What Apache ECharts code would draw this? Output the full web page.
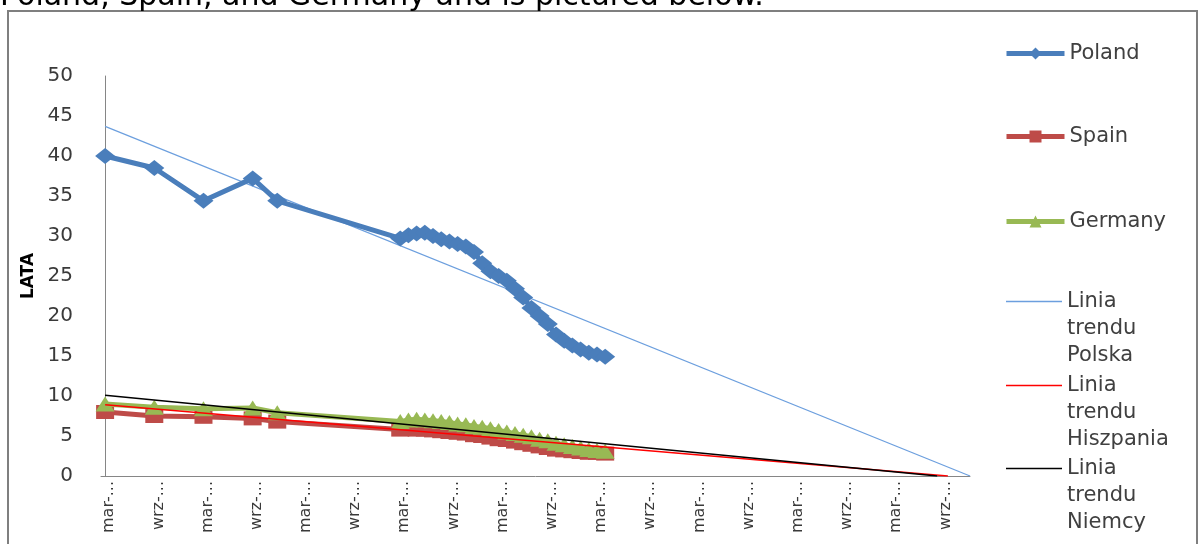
<!DOCTYPE html>
<html><head><meta charset="utf-8">
<script src="https://cdn.jsdelivr.net/npm/echarts@6/dist/echarts.min.js"></script>
<style>html,body{margin:0;padding:0;background:#fff;overflow:hidden}#c{width:1198px;height:544px}</style>
</head><body><div id="c"></div>
<script>
// x-axis tick labels (every 6 months)
const xTickLabels = ['mar-...','wrz-...','mar-...','wrz-...','mar-...','wrz-...','mar-...','wrz-...','mar-...',
                     'wrz-...','mar-...','wrz-...','mar-...','wrz-...','mar-...','wrz-...','mar-...','wrz-...'];
// observation months (months from first observation)
const months = [0, 6, 12, 18, 21,
  36, 37, 38, 39, 40, 41, 42, 43, 44, 45, 46, 47, 48, 49, 50, 51, 52, 53, 54, 55, 56, 57, 58, 59, 60, 61];
const poland = [40.0, 38.5, 34.4, 37.2, 34.4,
  29.7, 30.1, 30.3, 30.4, 30.0, 29.6, 29.3, 29.0, 28.7, 28.0, 26.6, 25.6, 25.0, 24.4, 23.4, 22.3, 21.0, 20.0, 19.0, 17.7, 16.9, 16.3, 15.8, 15.4, 15.2, 14.9];
const spain = [8.0, 7.5, 7.4, 7.2, 6.8,
  5.8, 5.9, 5.8, 5.8, 5.7, 5.6, 5.5, 5.4, 5.3, 5.1, 5.0, 4.8, 4.6, 4.5, 4.3, 4.1, 3.9, 3.7, 3.5, 3.3, 3.2, 3.1, 3.0, 2.9, 2.9, 2.8];
const germany = [9.0, 8.6, 8.4, 8.5, 7.9,
  6.8, 7.0, 7.1, 7.0, 6.9, 6.8, 6.7, 6.5, 6.4, 6.2, 6.1, 5.9, 5.7, 5.5, 5.3, 5.1, 4.9, 4.6, 4.4, 4.1, 3.9, 3.7, 3.5, 3.3, 3.2, 3.1];
// trend lines: [month, value] end points
const trendPolska = [[0, 43.7], [105.5, 0]];
const trendHiszpania = [[0, 8.9], [102.8, 0]];
const trendNiemcy = [[0, 10.1], [101.5, 0]];
const yTicks = [0, 5, 10, 15, 20, 25, 30, 35, 40, 45, 50];

const pair = arr => months.map((m, i) => [m, arr[i]]);
const tickValues = xTickLabels.map((_, i) => i * 6 + 0.5);
const F = 'DejaVu Sans';
const txt = '#3a3a3a';

const chart = echarts.init(document.getElementById('c'), null, {renderer: 'canvas'});
const lgBase = {orient: 'vertical', padding: 0, itemGap: 0, left: 1004, itemWidth: 58, itemHeight: 15,
  textStyle: {fontFamily: F, fontSize: 21, color: '#404040', lineHeight: 15}};
const trendBase = {orient: 'vertical', padding: 0, itemGap: 0, left: 1006, itemWidth: 56, itemHeight: 1.5,
  icon: 'rect',
  formatter: n => '\n\n' + n.split(' ').join('\n'),
  textStyle: {fontFamily: F, fontSize: 21, color: '#404040', lineHeight: 27}};

chart.setOption({
  animation: false,
  grid: {left: 101, right: 228, top: 76, bottom: 68, containLabel: false},
  xAxis: {
    type: 'value', min: -0.5, max: 105.5,
    axisLine: {onZero: false, lineStyle: {color: '#868686', width: 1}},
    axisTick: {show: false}, splitLine: {show: false},
    axisLabel: {customValues: tickValues, rotate: 90, margin: 5, fontFamily: F, fontSize: 16, color: txt,
      formatter: v => xTickLabels[Math.round((v - 0.5) / 6)] || ''}
  },
  yAxis: {
    type: 'value', min: 0, max: 50, interval: 5,
    axisLine: {show: true, lineStyle: {color: '#868686', width: 1}},
    axisTick: {show: false}, splitLine: {show: false},
    axisLabel: {margin: 28, fontFamily: F, fontSize: 20, color: txt,
      formatter: v => yTicks.includes(v) ? String(v) : ''},
    name: 'LATA', nameLocation: 'middle', nameGap: 52, nameRotate: 90,
    nameTextStyle: {fontFamily: 'DejaVu Sans', fontWeight: 'bold', fontSize: 17, color: '#000'}
  },
  legend: [
    Object.assign({}, lgBase, {data: ['Poland'], top: 43, lineStyle: {width: 5}}),
    Object.assign({}, lgBase, {data: ['Spain'], top: 126, lineStyle: {width: 5}}),
    Object.assign({}, lgBase, {data: ['Germany'], top: 211, lineStyle: {width: 5}}),
    Object.assign({}, trendBase, {data: ['Linia trendu Polska'], top: 234}),
    Object.assign({}, trendBase, {data: ['Linia trendu Hiszpania'], top: 318}),
    Object.assign({}, trendBase, {data: ['Linia trendu Niemcy'], top: 401})
  ],
  graphic: [
    {type: 'rect', shape: {x: 8, y: 11, width: 1189, height: 600}, style: {fill: 'none', stroke: '#7f7f7f', lineWidth: 2}, silent: true},
    {type: 'text', x: 0, y: 12, style: {text: 'Poland, Spain, and Germany and is pictured below.', fontFamily: F, fontSize: 30, fill: '#000', verticalAlign: 'bottom'}}
  ],
  series: [
    {name: 'Linia trendu Polska', type: 'line', data: trendPolska, symbol: 'none', z: 1,
      color: '#6C9FDE', lineStyle: {color: '#6C9FDE', width: 1.2}},
    {name: 'Poland', type: 'line', data: pair(poland), symbol: 'diamond', symbolSize: [20, 16], z: 2,
      color: '#4A7EBB', itemStyle: {color: '#4A7EBB'}, lineStyle: {color: '#4A7EBB', width: 5}},
    {name: 'Spain', type: 'line', data: pair(spain), symbol: 'rect', symbolSize: [18, 14], z: 3,
      color: '#BE4B48', itemStyle: {color: '#BE4B48'}, lineStyle: {color: '#BE4B48', width: 5}},
    {name: 'Germany', type: 'line', data: pair(germany), symbol: 'triangle', symbolSize: [19, 15], z: 4,
      color: '#98B954', itemStyle: {color: '#98B954'}, lineStyle: {color: '#98B954', width: 5}},
    {name: 'Linia trendu Hiszpania', type: 'line', data: trendHiszpania, symbol: 'none', z: 5,
      color: '#FF0000', lineStyle: {color: '#FF0000', width: 1.5}},
    {name: 'Linia trendu Niemcy', type: 'line', data: trendNiemcy, symbol: 'none', z: 5,
      color: '#000000', lineStyle: {color: '#000000', width: 1.5}}
  ]
});
</script></body></html>
